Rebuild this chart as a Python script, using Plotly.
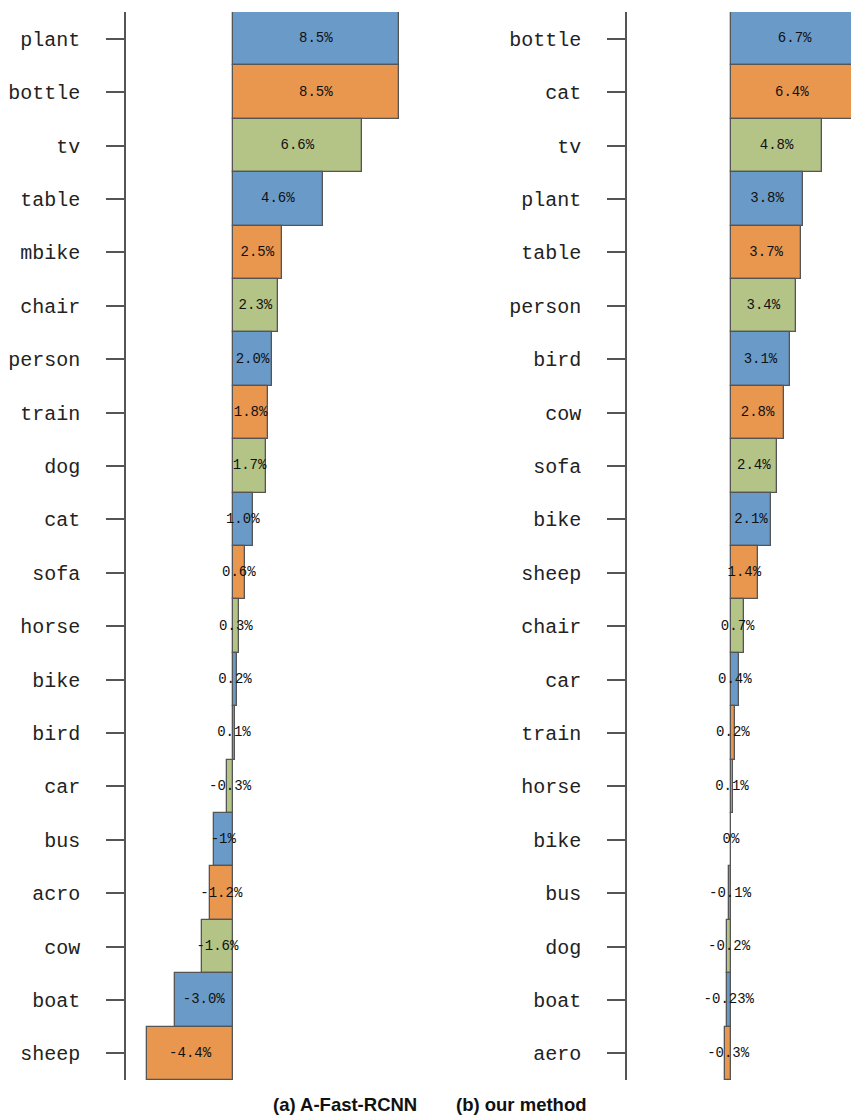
import plotly.graph_objects as go

# Per-class AP change, panel (a): A-Fast-RCNN
cats_a = ["plant", "bottle", "tv", "table", "mbike", "chair", "person", "train",
          "dog", "cat", "sofa", "horse", "bike", "bird", "car", "bus", "acro",
          "cow", "boat", "sheep"]
vals_a = [8.5, 8.5, 6.6, 4.6, 2.5, 2.3, 2.0, 1.8, 1.7, 1.0, 0.6, 0.3, 0.2, 0.1,
          -0.3, -1.0, -1.2, -1.6, -3.0, -4.4]
text_a = ["8.5%", "8.5%", "6.6%", "4.6%", "2.5%", "2.3%", "2.0%", "1.8%", "1.7%",
          "1.0%", "0.6%", "0.3%", "0.2%", "0.1%", "-0.3%", "-1%", "-1.2%",
          "-1.6%", "-3.0%", "-4.4%"]

# Per-class AP change, panel (b): our method
cats_b = ["bottle", "cat", "tv", "plant", "table", "person", "bird", "cow",
          "sofa", "bike", "sheep", "chair", "car", "train", "horse", "bike",
          "bus", "dog", "boat", "aero"]
vals_b = [6.7, 6.4, 4.8, 3.8, 3.7, 3.4, 3.1, 2.8, 2.4, 2.1, 1.4, 0.7, 0.4, 0.2,
          0.1, 0.0, -0.1, -0.2, -0.23, -0.3]
text_b = ["6.7%", "6.4%", "4.8%", "3.8%", "3.7%", "3.4%", "3.1%", "2.8%", "2.4%",
          "2.1%", "1.4%", "0.7%", "0.4%", "0.2%", "0.1%", "0%", "-0.1%", "-0.2%",
          "-0.23%", "-0.3%"]

captions = ["(a) A-Fast-RCNN", "(b) our method"]

palette = ["#6A9BC8", "#E9964F", "#B4C487"]
edge = "#555555"
W, H = 851, 1116
mono = "Liberation Mono, Courier New, monospace"

fig = go.Figure()


def add_panel(vals, texts, xa, ya):
    pos = list(range(len(vals)))
    colors = [palette[i % 3] for i in pos]
    fig.add_trace(go.Bar(
        x=vals, y=pos, orientation="h", xaxis=xa, yaxis=ya,
        marker=dict(color=colors, line=dict(color=edge, width=1.3)),
        hoverinfo="skip", showlegend=False))
    fig.add_trace(go.Scatter(
        x=[v / 2 for v in vals], y=pos, mode="text", text=texts,
        textposition="middle center", xaxis=xa, yaxis=ya,
        textfont=dict(family=mono, size=14, color="#111111"),
        cliponaxis=False, hoverinfo="skip", showlegend=False))


add_panel(vals_a, text_a, "x", "y")
add_panel(vals_b, text_b, "x2", "y2")

top_px, bot_px = 12, 1080
ydom = [(H - bot_px) / H, (H - top_px) / H]

# left panel: axis line at 126 px, zero at 233 px, 19.5 px per percent
sa = 19.5
xa_l, xa_r, za = 126, 440, 233
# right panel: axis line at 627 px, zero at 731 px, 19 px per percent
sb = 19.0
xb_l, xb_r, zb = 627, 851, 731

yax_common = dict(
    domain=ydom, range=[19.5, -0.5], tickmode="array", tickvals=list(range(20)),
    showline=True, linecolor=edge, linewidth=1.5, ticks="outside",
    ticklen=18, tickwidth=1.5, tickcolor=edge, showgrid=False, zeroline=False,
    tickfont=dict(family=mono, size=20, color="#222222"),
    ticklabelstandoff=22, automargin=False, fixedrange=True)

fig.update_layout(
    width=W, height=H, margin=dict(l=0, r=0, t=0, b=0),
    paper_bgcolor="white", plot_bgcolor="white", bargap=0,
    xaxis=dict(domain=[xa_l / W, xa_r / W], anchor="y",
               range=[(xa_l - za) / sa, (xa_r - za) / sa], visible=False),
    xaxis2=dict(domain=[xb_l / W, xb_r / W], anchor="y2",
                range=[(xb_l - zb) / sb, (xb_r - zb) / sb], visible=False),
    yaxis=dict(anchor="x", ticktext=cats_a, **yax_common),
    yaxis2=dict(anchor="x2", ticktext=cats_b, **yax_common),
)

# panel captions along the bottom edge
for txt, cx in zip(captions, [345, 521]):
    fig.add_annotation(
        text=txt, x=cx / W, y=0, xref="paper", yref="paper",
        xanchor="center", yanchor="bottom", showarrow=False, borderpad=0,
        font=dict(family="Liberation Sans, Arial, sans-serif", size=18.5,
                  color="#111111", weight="bold"))

fig.write_html("out.html")
